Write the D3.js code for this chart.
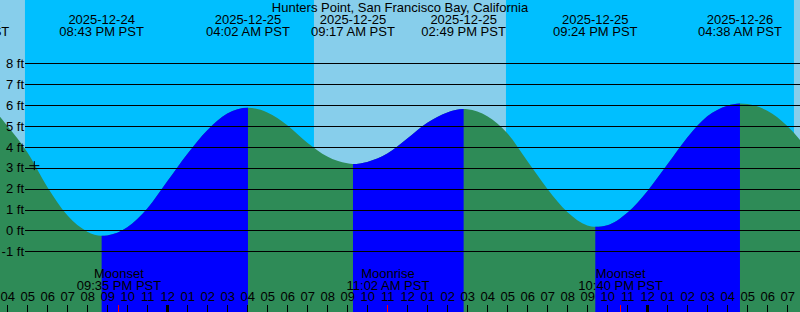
<!DOCTYPE html>
<html>
<head>
<meta charset="utf-8">
<script src="https://cdn.jsdelivr.net/npm/d3@7"></script>
<style>
  html, body { margin: 0; padding: 0; background: #fff; }
  svg { display: block; }
  text { font-family: "Liberation Sans", Arial, sans-serif; font-size: 13px; fill: #000; }
</style>
</head>
<body>
<svg id="chart" width="800" height="312"></svg>
<script>
// ---------- data ----------
const title = "Hunters Point, San Francisco Bay, California";

// hourly tide heights (ft, PST wall time)
const tideTimes = [
  "2025-12-24 15:00","2025-12-24 16:00","2025-12-24 17:00","2025-12-24 18:00","2025-12-24 19:00",
  "2025-12-24 20:00","2025-12-24 21:00","2025-12-24 22:00","2025-12-24 23:00",
  "2025-12-25 00:00","2025-12-25 01:00","2025-12-25 02:00","2025-12-25 03:00",
  "2025-12-25 05:00","2025-12-25 06:00","2025-12-25 07:00","2025-12-25 08:00","2025-12-25 09:00",
  "2025-12-25 10:00","2025-12-25 11:00","2025-12-25 12:00","2025-12-25 13:00","2025-12-25 14:00",
  "2025-12-25 15:00","2025-12-25 16:00","2025-12-25 17:00","2025-12-25 18:00","2025-12-25 19:00",
  "2025-12-25 20:00","2025-12-25 21:00","2025-12-25 22:00","2025-12-25 23:00",
  "2025-12-26 00:00","2025-12-26 01:00","2025-12-26 02:00","2025-12-26 03:00","2025-12-26 04:00",
  "2025-12-26 05:00","2025-12-26 06:00","2025-12-26 07:00","2025-12-26 08:00"
];
const tideHeights = [
  6.0, 5.0, 3.74, 2.08, 0.72,
  -0.06, -0.24, 0.15, 1.05,
  2.35, 3.66, 4.8, 5.6,
  5.65, 5.04, 4.2, 3.54, 3.21,
  3.28, 3.68, 4.4, 5.15, 5.65,
  5.80, 5.47, 4.65, 3.32, 2.0,
  0.88, 0.24, 0.25, 0.85,
  1.88, 3.15, 4.45, 5.46, 5.97,
  6.05, 5.73, 5.0, 3.9
];

// high / low tides
const extremeTimes   = ["2025-12-24 13:59","2025-12-24 20:43","2025-12-25 04:02","2025-12-25 09:17","2025-12-25 14:49","2025-12-25 21:24","2025-12-26 04:38"];
const extremeHeights = [6.2, -0.26, 5.87, 3.18, 5.81, 0.17, 6.08];
const extremeTypes   = ["H","L","H","L","H","L","H"];

// sun: daylight intervals
const dayStarts = ["2025-12-24 06:00","2025-12-25 07:20","2025-12-26 07:20"];
const dayEnds   = ["2025-12-24 16:53","2025-12-25 16:56","2025-12-26 17:00"];

// moon events
const moonTimes  = ["2025-12-24 21:35","2025-12-25 11:02","2025-12-25 22:40"];
const moonLabels = ["Moonset","Moonrise","Moonset"];

// current level marker
const nowTime = "2025-12-24 17:21";
const nowHeight = 3.1;

const yTickValues = [-1, 0, 1, 2, 3, 4, 5, 6, 7, 8];
const domainStart = "2025-12-24 15:38:06";
const domainEnd   = "2025-12-26 07:38:06";

// ---------- drawing ----------
const W = 800, H = 312;
const parse = s => d3.utcParse(s.length > 16 ? "%Y-%m-%d %H:%M:%S" : "%Y-%m-%d %H:%M")(s);
const svg = d3.select("#chart");

const x = d3.scaleUtc().domain([parse(domainStart), parse(domainEnd)]).range([0, W]);
const y = d3.scaleLinear().domain([-1, 8]).range([251.3, 63.3]);

const colDay = "#87CEEB", colNight = "#00BFFF", colFall = "#2E8B57", colRise = "#0000FF";

// background: night then day bands
svg.append("rect").attr("x", 0).attr("y", 0).attr("width", W).attr("height", H).attr("fill", colNight);
svg.append("g").selectAll("rect")
  .data(dayStarts.map((s, i) => [parse(s), parse(dayEnds[i])]))
  .join("rect")
  .attr("x", d => Math.max(0, x(d[0])))
  .attr("width", d => Math.max(0, Math.min(W, x(d[1])) - Math.max(0, x(d[0]))))
  .attr("y", 0).attr("height", H)
  .attr("fill", colDay);

// tide curve data: hourly readings merged with extremes
const extremes = extremeTimes.map((t, i) => ({ t: parse(t), h: extremeHeights[i], type: extremeTypes[i], s: t }));
const pts = tideTimes.map((t, i) => ({ t: parse(t), h: tideHeights[i] }))
  .concat(extremes.map(e => ({ t: e.t, h: e.h })))
  .sort((a, b) => a.t - b.t);

const area = d3.area()
  .x(d => x(d.t))
  .y0(H)
  .y1(d => y(d.h))
  .curve(d3.curveMonotoneX);

// falling (green) everywhere
svg.append("path").datum(pts).attr("d", area).attr("fill", colFall);

// rising (blue) between each low and following high
const defs = svg.append("defs");
const clip = defs.append("clipPath").attr("id", "riseClip");
extremes.forEach((e, i) => {
  if (e.type === "L" && i + 1 < extremes.length) {
    const x0 = x(e.t), x1 = x(extremes[i + 1].t);
    clip.append("rect").attr("x", x0).attr("y", 0).attr("width", x1 - x0).attr("height", H);
  }
});
svg.append("path").datum(pts).attr("d", area).attr("fill", colRise).attr("clip-path", "url(#riseClip)");

// y gridlines + labels
const yAxis = d3.axisLeft(y).tickValues(yTickValues).tickSize(-(W - 25)).tickPadding(1)
  .tickFormat(d => d + " ft");
const gy = svg.append("g").attr("transform", "translate(25,0)").call(yAxis);
gy.select(".domain").remove();
gy.selectAll(".tick line").attr("stroke", "#000").attr("stroke-width", 1).attr("shape-rendering", "crispEdges");
gy.selectAll(".tick text").attr("font-size", 13).attr("font-family", null).style("fill", "#000");

// title
svg.append("text").attr("x", W / 2).attr("y", 11.5).attr("text-anchor", "middle").text(title);

// extreme labels (date + time)
const fDate = d3.utcFormat("%Y-%m-%d"), fTime = d3.utcFormat("%I:%M %p PST");
const gl = svg.append("g");
extremes.forEach(e => {
  gl.append("text").attr("x", x(e.t)).attr("y", 24).attr("text-anchor", "middle").text(fDate(e.t));
  gl.append("text").attr("x", x(e.t)).attr("y", 36).attr("text-anchor", "middle").text(fTime(e.t));
});

// moon labels
const moons = moonTimes.map((t, i) => ({ t: parse(t), label: moonLabels[i] }));
moons.forEach(m => {
  svg.append("text").attr("x", x(m.t)).attr("y", 278).attr("text-anchor", "middle").text(m.label);
  svg.append("text").attr("x", x(m.t)).attr("y", 289.5).attr("text-anchor", "middle").text(fTime(m.t));
});

// hour axis at bottom
const xAxis = d3.axisTop(x).ticks(d3.utcHour.every(1)).tickFormat(d3.utcFormat("%I"))
  .tickSize(7).tickPadding(4);
const gx = svg.append("g").attr("transform", `translate(0,${H})`).call(xAxis);
gx.select(".domain").remove();
gx.selectAll(".tick line").attr("stroke", "#000").attr("shape-rendering", "crispEdges")
  .attr("stroke-width", d => d.getUTCHours() === 0 ? 3 : 1);
gx.selectAll(".tick text").attr("font-size", 13).attr("font-family", null).style("fill", "#000");

// moon event ticks (red)
svg.append("g").selectAll("line").data(moons).join("line")
  .attr("x1", d => x(d.t)).attr("x2", d => x(d.t))
  .attr("y1", H - 7).attr("y2", H)
  .attr("stroke", "#ff0000").attr("stroke-width", 1).attr("shape-rendering", "crispEdges");

// current level marker (+)
const cx = x(parse(nowTime)), cy = y(nowHeight);
svg.append("path")
  .attr("d", `M${cx - 5},${cy}H${cx + 5}M${cx},${cy - 4.5}V${cy + 4.5}`)
  .attr("stroke", "#000").attr("stroke-width", 1).attr("fill", "none");
</script>
</body>
</html>
